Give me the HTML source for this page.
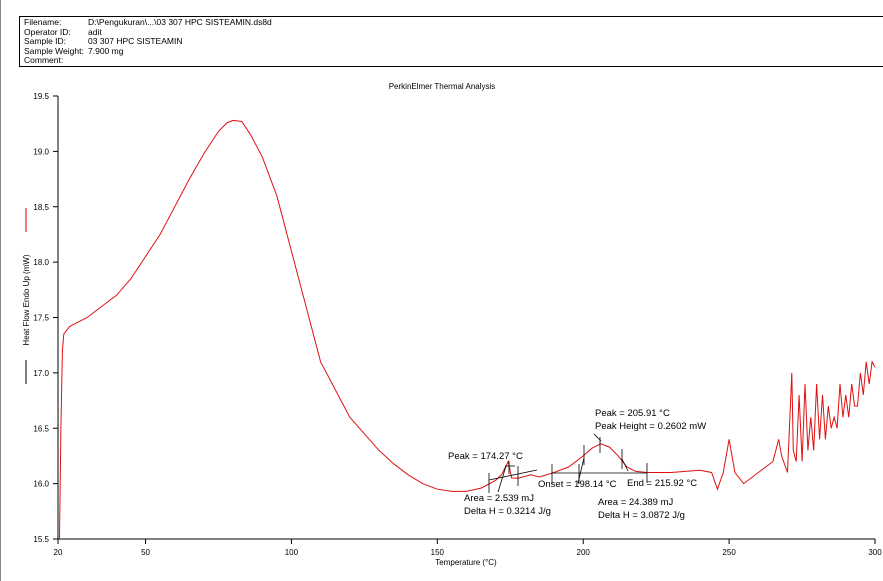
<!DOCTYPE html>
<html><head><meta charset="utf-8"><style>
body{margin:0;background:#fff;font-family:"Liberation Sans",sans-serif;}
#wrap{position:relative;width:883px;height:581px;overflow:hidden;background:#fff;}
#hdr{position:absolute;left:19px;top:16px;width:870px;height:49px;border:1px solid #000;font-size:8.5px;line-height:9.6px;}
#hdr div{position:absolute;left:4px;width:400px;white-space:nowrap;}
#hdr span{position:absolute;left:64px;white-space:nowrap;}
</style></head><body>
<div id="wrap">
<div style="position:absolute;left:0;top:0;width:1px;height:581px;background:#888"></div>
<div id="hdr">
<div style="top:1px">Filename:<span>D:\Pengukuran\...\03 307 HPC SISTEAMIN.ds8d</span></div>
<div style="top:10.5px">Operator ID:<span>adit</span></div>
<div style="top:20px">Sample ID:<span>03 307 HPC SISTEAMIN</span></div>
<div style="top:29.5px">Sample Weight:<span>7.900 mg</span></div>
<div style="top:39px">Comment:</div>
</div>
<svg id="svg" width="883" height="581" style="position:absolute;left:0;top:0" font-family="Liberation Sans, sans-serif"></svg>
</div>
<script>
const temps=[20.5,21,21.5,22,24,27,30,35,40,45,50,55,60,65,70,75,78,80,83,86,90,95,100,105,110,115,120,125,130,135,140,145,150,155,160,165,170,172,174.3,175.5,178,182,185,190,195,200,203,206,209,212,215,218,222,230,240,244,246,248,250,252,255,260,265,267,268,270,271.5,272,273,274,275,276,277,278,279,280,281,282,283,284,285,286,287,288,289,290,291,292,293,294,295,296,297,298,299,300];
const heatFlow=[15.5,16.5,17.2,17.35,17.42,17.46,17.5,17.6,17.7,17.85,18.05,18.25,18.5,18.75,18.98,19.18,19.26,19.28,19.27,19.15,18.95,18.6,18.1,17.6,17.1,16.85,16.6,16.45,16.3,16.18,16.08,16.0,15.95,15.93,15.93,15.96,16.03,16.08,16.2,16.05,16.05,16.08,16.06,16.1,16.15,16.25,16.32,16.36,16.33,16.25,16.15,16.11,16.1,16.1,16.12,16.1,15.95,16.1,16.4,16.1,16.0,16.1,16.2,16.4,16.25,16.1,17.0,16.3,16.2,16.8,16.2,16.9,16.3,16.6,16.3,16.9,16.4,16.8,16.4,16.7,16.5,16.6,16.5,16.9,16.6,16.8,16.6,16.9,16.7,16.7,17.0,16.8,17.1,16.9,17.1,17.05];
const xTicks=[20,50,100,150,200,250,300];
const yTicks=[15.5,16.0,16.5,17.0,17.5,18.0,18.5,19.0,19.5];
const X=t=>58+(t-20)*817/280;
const Y=v=>539-(v-15.5)*443/4;
const svg=document.getElementById('svg');
const NS='http://www.w3.org/2000/svg';
function mk(tag,attrs,txt){const e=document.createElementNS(NS,tag);for(const k in attrs)e.setAttribute(k,attrs[k]);if(txt!==undefined)e.textContent=txt;svg.appendChild(e);return e;}
let e;
e=mk('text',{x:442,y:89,'font-size':8,'text-anchor':'middle'},'PerkinElmer Thermal Analysis');


e=mk('line',{x1:58,y1:96,x2:58,y2:539,stroke:'#000','stroke-width':1});


e=mk('line',{x1:58,y1:539,x2:875,y2:539,stroke:'#000','stroke-width':1});


yTicks.forEach(v=>{
 e=mk('line',{x1:53,y1:Y(v),x2:58,y2:Y(v),stroke:'#000'});
 
 
 e=mk('text',{x:49,y:Y(v)+3,'font-size':8,'text-anchor':'end'},v.toFixed(1));
 
 
});
xTicks.forEach(t=>{
 e=mk('line',{x1:X(t),y1:539,x2:X(t),y2:544,stroke:'#000'});
 
 
 e=mk('text',{x:X(t),y:555,'font-size':8,'text-anchor':'middle'},String(t));
 
 
});
e=mk('text',{x:466,y:565,'font-size':8,'text-anchor':'middle'},'Temperature (°C)');


e=mk('text',{x:0,y:0,'font-size':8,'text-anchor':'middle',transform:'translate(29,300) rotate(-90)'},'Heat Flow Endo Up (mW)');


e=mk('line',{x1:26,y1:208,x2:26,y2:232,stroke:'#d00'});


e=mk('line',{x1:26,y1:360,x2:26,y2:384,stroke:'#000'});


let d=temps.map((t,i)=>(i?'L':'M')+X(t).toFixed(1)+','+Y(heatFlow[i]).toFixed(1)).join('');
e=mk('path',{d:d,fill:'none',stroke:'#e01010','stroke-width':1});


const ann=[[489,480,537,470],[489,473,489,493],[518,466,518,486],[509,461,509,474],[505,466,515,466],[498,492,506,466],
[552,473,647,473],[552,464,552,484],[579,464,579,484],[584,445,584,465],[600,437,600,453],[622,449,622,469],[647,463,647,483],[578,483,584,458],[594,434,601,441],[622,459,628,471]];
ann.forEach(a=>{e=mk('line',{x1:a[0],y1:a[1],x2:a[2],y2:a[3],stroke:'#000','stroke-width':0.8});

});
const labels=[[448,459,'Peak = 174.27 °C'],[464,501,'Area = 2.539 mJ'],[464,514,'Delta H = 0.3214 J/g'],[595,416,'Peak = 205.91 °C'],[595,429,'Peak Height = 0.2602 mW'],[538,487,'Onset = 198.14 °C'],[627,486,'End = 215.92 °C'],[598,505,'Area = 24.389 mJ'],[598,518,'Delta H = 3.0872 J/g']];
labels.forEach(l=>{e=mk('text',{x:l[0],y:l[1],'font-size':9.5},l[2]);

});
</script>
</body></html>
